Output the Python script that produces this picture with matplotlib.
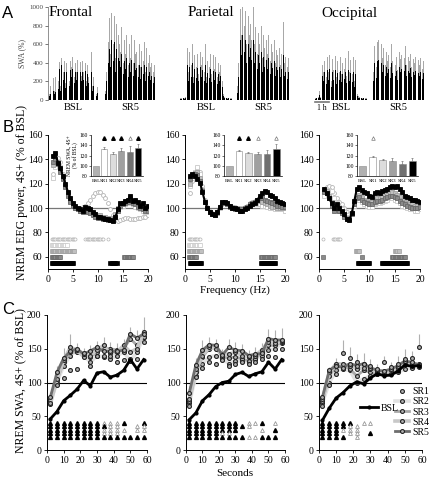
import matplotlib; matplotlib.use("Agg")
import matplotlib.pyplot as plt
import numpy as np
from matplotlib.lines import Line2D

plt.rcParams['font.family'] = ['Liberation Serif', 'DejaVu Serif']
W, H = 431, 479
SANS = ['Liberation Sans', 'DejaVu Sans']

# ---------------- data ----------------
# A: SWA time course (gray = peaks, black = body)
F_BSL_G = [60,150,80,240,100,250,90,200,410,150,450,300,420,180,400,620,200,420,350,460,250,400,300,430,200,410,260,420,300,400,200,380,250,320,520,150,250,100,60,140]
F_BSL_K = [40,60,50,100,60,90,70,120,330,100,380,220,300,130,300,350,150,320,250,330,180,300,220,300,150,300,200,300,220,310,150,280,180,250,300,100,150,60,40,80]
F_SR5_G = [100,300,620,880,500,940,600,900,450,820,700,600,520,780,400,650,500,700,380,600,450,700,400,640,500,520,380,600,350,530,420,620,300,560,400,480,350,400,300,380]
F_SR5_K = [60,200,400,550,350,650,420,620,300,550,450,420,360,500,280,420,330,450,250,400,300,430,260,400,320,340,250,380,230,350,280,380,200,360,260,300,220,260,180,250]
P_BSL_G = [20,20,25,20,30,560,300,520,380,600,250,480,350,500,280,520,380,460,300,600,250,420,360,500,280,480,330,460,250,400,300,380,200,60,30,25,20,25,20,20]
P_BSL_K = [15,15,20,15,20,380,200,360,250,400,180,330,240,340,200,360,250,320,200,380,180,290,240,330,190,310,220,300,170,280,200,260,140,40,20,18,15,18,15,15]
P_SR5_G = [150,400,980,700,1000,800,960,600,900,700,820,650,1000,600,780,500,720,600,800,450,700,560,650,500,700,420,600,520,650,400,540,480,560,380,500,840,400,460,350,450]
P_SR5_K = [80,250,650,480,700,520,640,400,600,460,560,430,650,400,520,330,480,400,520,300,460,360,430,330,450,280,400,340,420,260,360,320,360,250,330,480,260,300,230,300]
O_BSL_G = [20,25,30,100,30,380,300,420,250,460,300,480,200,440,320,470,250,420,300,460,280,400,330,450,260,530,300,430,280,460,200,430,60,40,30,25,20,25,20,20]
O_BSL_K = [15,18,20,50,20,260,200,300,170,320,210,330,140,300,220,320,170,290,210,310,190,280,230,300,180,320,200,290,190,300,140,280,40,25,20,18,15,18,15,15]
O_SR5_G = [300,580,350,620,640,400,600,450,560,380,520,420,480,350,600,420,500,380,460,320,520,440,480,350,450,580,380,460,420,500,360,440,400,460,350,430,380,450,330,420]
O_SR5_K = [200,400,240,420,430,280,400,300,380,260,360,290,330,240,400,290,340,260,310,220,350,300,330,240,310,380,260,310,290,340,250,300,270,310,240,290,260,300,230,290]

# B: NREM EEG power spectra (% of BSL), 1-20 Hz in 0.5 Hz bins
FREQ = np.arange(1.0, 20.01, 0.5)
SERIES = ["SR1", "SR2", "SR3", "SR4", "SR5"]
F_SPEC = [
    [128,138,141,138,128,120,112,107,103,101,100,100,101,102,104,107,110,112,113,113,111,108,104,99,94,90,89,90,91,92,92,91,91,91,92,92,93,93,94],
    [125,134,138,134,126,118,111,106,102,100,99,98,97,98,97,96,95,94,93,93,92,92,91,91,91,94,98,101,102,103,104,104,103,101,100,99,98,97,97],
    [135,140,138,132,125,118,111,106,102,100,99,98,98,99,98,97,96,95,94,94,93,93,92,92,91,95,100,103,104,105,106,108,105,104,102,101,100,99,99],
    [138,140,136,130,124,117,110,105,102,100,99,98,97,98,97,96,94,93,92,92,91,91,90,90,90,93,98,102,103,104,105,107,104,103,101,100,99,98,98],
    [143,145,137,133,126,120,113,108,104,102,100,99,98,101,100,99,97,95,93,93,92,91,91,90,89,93,99,104,104,106,107,110,106,107,105,102,104,100,102],
]
P_SPEC = [
    [112,122,128,132,130,118,107,101,98,96,95,97,100,103,104,103,102,101,101,100,100,100,101,102,104,105,106,105,104,103,102,101,101,100,100,100,100,99,99],
    [118,125,130,134,128,116,106,100,97,95,94,96,100,104,104,103,101,100,100,99,99,99,100,101,102,103,103,103,103,102,102,101,100,100,99,99,99,99,98],
    [120,126,129,130,125,115,105,100,97,95,94,96,101,105,105,104,102,101,100,100,99,99,100,101,102,104,105,106,106,105,104,103,102,101,101,100,100,100,100],
    [124,127,128,127,122,114,105,100,97,95,94,97,101,104,104,103,101,100,99,99,98,99,100,101,103,104,105,107,108,108,107,106,105,104,103,102,102,101,101],
    [126,128,126,124,121,113,105,100,97,95,94,97,101,105,105,104,102,100,100,99,98,98,99,100,102,103,104,107,110,112,114,113,111,110,108,106,105,104,103],
]
O_SPEC = [
    [112,117,118,117,112,108,105,103,100,97,95,97,104,110,110,108,106,105,104,104,106,107,107,108,109,110,111,112,111,110,108,106,104,103,102,101,101,100,100],
    [110,113,115,114,108,104,101,99,97,94,93,96,102,107,107,105,103,102,101,101,103,104,104,105,106,107,108,108,107,106,104,102,101,100,99,99,98,98,99],
    [114,114,110,105,100,99,98,96,94,92,92,96,103,110,111,109,107,106,105,105,107,108,108,109,110,111,112,113,112,111,109,107,105,104,103,103,102,102,102],
    [113,112,108,102,98,100,98,96,93,91,91,95,103,108,109,107,105,104,103,103,105,106,106,107,108,109,110,110,109,108,106,104,103,102,101,100,100,100,101],
    [116,112,108,104,100,103,100,98,95,91,90,96,106,116,117,115,113,112,110,109,112,113,112,114,115,116,117,118,117,118,116,113,110,109,108,107,107,106,105],
]
# significant frequency ranges (Hz) per series
F_SIG = [[(0.75, 5.5), (7.5, 11.0), (12.0, 12.0)], [(0.75, 3.75)], [(0.75, 5.25)], [(0.75, 2.5), (15.25, 17.0)], [(0.75, 5.0), (12.5, 13.75)]]
P_SIG = [[(0.75, 3.0)], [(0.75, 3.0)], [(0.75, 3.25)], [(0.75, 2.25), (15.25, 18.0)], [(1.0, 3.25), (15.25, 18.0)]]
O_SIG = [[(0.75, 0.75), (2.75, 4.25)], [], [(7.25, 8.0), (15.0, 15.75)], [(0.75, 0.75), (8.5, 8.5), (14.5, 17.0)], [(7.75, 10.0), (12.5, 17.5)]]

# B insets: NREM SWA
BAR_CATS = ["BSL", "SR1", "SR2", "SR3", "SR4", "SR5"]
F_BAR = [100, 133, 123, 129, 127, 134]; F_BAR_ERR = [0, 3, 4, 6, 11, 8]; F_BAR_SIG = "-fffof"
P_BAR = [100, 128, 124, 122, 122, 132]; P_BAR_ERR = [0, 3, 3, 5, 9, 10]; P_BAR_SIG = "-ffo-o"
O_BAR = [100, 117, 111, 109, 104, 109]; O_BAR_ERR = [0, 3, 3, 7, 6, 7]; O_BAR_SIG = "-o----"

# C: SWA time course within NREM episodes
TIME = np.arange(2, 59, 4)
F_BSL = [46,57,73,81,90,103,95,114,116,108,111,118,134,120,134]
F_SR = [
    [70,97,106,118,120,143,125,140,140,140,130,133,135,135,160],
    [72,100,125,140,148,140,130,140,138,135,140,145,132,145,168],
    [75,103,130,145,145,140,138,145,150,150,148,150,165,155,168],
    [68,105,133,152,148,138,140,148,155,143,145,155,145,150,175],
    [78,115,136,146,150,142,147,152,146,146,146,148,172,166,172],
]
F_ERR = [8,10,15,20,8,8,8,10,12,10,10,10,10,12,22]
P_BSL = [45,55,73,82,94,100,102,112,115,109,113,116,130,120,134]
P_SR = [
    [65,108,122,130,128,133,124,127,130,128,130,135,140,138,150],
    [70,110,128,138,140,135,128,132,132,130,135,140,148,150,158],
    [72,115,138,150,152,138,136,138,135,132,135,145,155,155,160],
    [75,120,140,152,150,142,142,145,140,138,140,148,160,158,162],
    [85,126,148,156,155,141,152,148,147,140,142,143,165,163,163],
]
P_ERR = [10,10,15,12,10,8,12,12,10,8,10,10,15,15,18]
O_BSL = [44,62,77,85,95,101,98,107,113,110,111,117,126,124,125]
O_SR = [
    [65,97,113,143,137,130,128,125,120,130,123,128,135,136,152],
    [70,100,118,120,118,100,105,110,112,112,112,115,120,122,123],
    [72,110,125,125,120,110,118,115,113,113,115,118,128,125,125],
    [75,115,128,127,125,120,122,120,115,115,118,122,130,128,127],
    [78,118,125,122,128,125,128,122,118,117,120,125,132,130,126],
]
O_ERR = [5,5,8,20,15,12,15,10,8,10,8,12,15,10,20]
# significance triangles (f = filled, o = open, - = none), rows SR1..SR5
F_TRI = ["ffffffffooof--f", "fffffffffoo--oo", "ffffffffoooo-oo", "ffffffffooo----", "fffffffffffffff"]
P_TRI = ["ffffffff-oof-o-", "fffffffffo-----", "ffffffff---o-f-", "fffffoo--------", "fffffffffoofff-"]
O_TRI = ["fffff-oo-------", "ffffoo---------", "fffooo---------", "fff-oo-f-------", "ffff-o---------"]

# ---------------- helpers ----------------
def box(x0, y0, x1, y1):
    return [x0 / W, 1 - y1 / H, (x1 - x0) / W, (y1 - y0) / H]

def ftext(x, y, s, **kw):
    fig.text(x / W, 1 - y / H, s, **kw)

def clean(ax, lw=0.7):
    for s in ("top", "right"):
        ax.spines[s].set_visible(False)
    for s in ("left", "bottom"):
        ax.spines[s].set_linewidth(lw)

fig = plt.figure(figsize=(4.31, 4.79), dpi=100)

# ---------------- A ----------------
A_TRACES = [(F_BSL_G, F_BSL_K), (F_SR5_G, F_SR5_K), (P_BSL_G, P_BSL_K),
            (P_SR5_G, P_SR5_K), (O_BSL_G, O_BSL_K), (O_SR5_G, O_SR5_K)]
A_POS = [(49, 98), (105, 155), (180, 232), (237, 289), (315, 367), (373, 424)]
A_LAB = ["BSL", "SR5"] * 3
for i, ((g, k), (x0, x1)) in enumerate(zip(A_TRACES, A_POS)):
    ax = fig.add_axes(box(x0, 7, x1, 100))
    idx = np.arange(len(g))
    ax.bar(idx, g, width=0.7, color="#a8a8a8", lw=0)
    ax.bar(idx, k, width=0.7, color="black", lw=0)
    ax.set_xlim(-0.5, len(g) - 0.5); ax.set_ylim(0, 1000)
    ax.set_xticks([])
    for s in ("top", "right", "bottom"):
        ax.spines[s].set_visible(False)
    if i == 0:
        ax.spines["left"].set_position(("outward", 1))
        ax.spines["left"].set_linewidth(0.5); ax.spines["left"].set_color("#666")
        ax.set_yticks(range(0, 1001, 200))
        ax.tick_params(axis="y", labelsize=5, length=2, width=0.5, pad=1, colors="#444")
        ax.set_ylabel("SWA (%)", fontsize=5.5, labelpad=2, color="#444")
    else:
        ax.spines["left"].set_visible(False); ax.set_yticks([])
    ftext((x0 + x1) / 2, 108, A_LAB[i], ha="center", va="center", fontsize=7.5)

ftext(49, 13, "Frontal", ha="left", va="center", fontsize=11)
ftext(188, 13, "Parietal", ha="left", va="center", fontsize=11)
ftext(321, 13, "Occipital", ha="left", va="center", fontsize=11)
fig.add_artist(Line2D([315 / W, 329 / W], [1 - 102 / H] * 2, color="#777", lw=1.2))
ftext(322, 108, "1 h", ha="center", va="center", fontsize=5.5)

# ---------------- B ----------------
SPEC_STY = [dict(marker="o", mfc="white", mec="#b5b5b5"),
            dict(marker="s", mfc="white", mec="#c8c8c8"),
            dict(marker="s", mfc="#c0c0c0", mec="#a0a0a0"),
            dict(marker="s", mfc="#8a8a8a", mec="#6a6a6a"),
            dict(marker="s", mfc="black", mec="black")]
SIG_LEVELS = [75, 70, 65, 60, 55]
B_POS = [(48, 148), (185, 285), (319, 420)]
for spec, sig, (x0, x1) in zip([F_SPEC, P_SPEC, O_SPEC], [F_SIG, P_SIG, O_SIG], B_POS):
    ax = fig.add_axes(box(x0, 135, x1, 269))
    clean(ax)
    ax.axhline(100, color="#777", lw=0.9, zorder=1)
    for k in range(5):
        if k == 4:
            ax.plot(FREQ, spec[k], color="black", lw=1.5, ms=2.8, mew=0.6, zorder=5, **SPEC_STY[k])
        else:
            ax.plot(FREQ, spec[k], ls="none", ms=2.8, mew=0.6, zorder=3, **SPEC_STY[k])
        for a, b in sig[k]:
            xs = np.arange(a, b + 0.01, 0.25)
            ax.plot(xs, [SIG_LEVELS[k]] * len(xs), ls="none", ms=2.2, mew=0.5, **SPEC_STY[k])
    ax.set_xlim(0, 20); ax.set_ylim(50, 160)
    ax.set_xticks(range(0, 21, 5)); ax.set_yticks(range(60, 161, 20))
    ax.tick_params(labelsize=7, length=2.5, width=0.6, pad=1.5)

BAR_COLORS = ["#b0b0b0", "white", "#dcdcdc", "#a0a0a0", "#707070", "black"]
INSET_POS = [(91, 143), (224, 282), (357, 418)]
for i, (vals, err, sig, (x0, x1)) in enumerate(zip([F_BAR, P_BAR, O_BAR], [F_BAR_ERR, P_BAR_ERR, O_BAR_ERR],
                                                  [F_BAR_SIG, P_BAR_SIG, O_BAR_SIG], INSET_POS)):
    ax = fig.add_axes(box(x0, 135, x1, 176))
    clean(ax, 0.5)
    xs = np.arange(len(BAR_CATS))
    ax.bar(xs, vals, width=0.72, color=BAR_COLORS, edgecolor="#888", lw=0.4)
    ax.errorbar(xs[1:], vals[1:], yerr=[np.zeros(5), err[1:]], fmt="none", ecolor="#777", elinewidth=0.5, capsize=1, capthick=0.5)
    for j, c in enumerate(sig):
        if c == "f":
            ax.plot(xs[j], 155, marker="^", ms=2.6, color="black")
        elif c == "o":
            ax.plot(xs[j], 155, marker="^", ms=2.6, mfc="white", mec="#777", mew=0.5)
    ax.set_ylim(80, 160); ax.set_xlim(-0.6, 5.6)
    ax.set_yticks(range(80, 161, 20)); ax.set_xticks(xs)
    ax.set_xticklabels(BAR_CATS)
    ax.tick_params(axis="y", labelsize=4, length=1.5, width=0.4, pad=1)
    ax.tick_params(axis="x", labelsize=3.6, length=0, pad=2)
    if i == 0:
        ax.set_ylabel("NREM SWA, 4S+\n(% of BSL)", fontsize=4, labelpad=1, linespacing=1.0)

ftext(22, 192, "NREM EEG power, 4S+ (% of BSL)", rotation=90, ha="center", va="center", fontsize=8.5)
ftext(235, 290, "Frequency (Hz)", ha="center", va="center", fontsize=8)

# ---------------- C ----------------
LINE_STY = [None,
            dict(color="#e2e2e2", lw=2.6),
            dict(color="#a8a8a8", lw=2.0),
            dict(color="#c8c8c8", lw=2.6),
            dict(color="#6e6e6e", lw=2.0)]
MK = dict(marker="o", ms=2.8, mfc="#b0b0b0", mec="#222", mew=0.8)
TRI_LEVELS = [40, 35, 30, 25, 20]
C_POS = [(47, 147), (186, 285), (319, 422)]
for j, (bsl, srs, err, tri, (x0, x1)) in enumerate(zip([F_BSL, P_BSL, O_BSL], [F_SR, P_SR, O_SR],
                                                      [F_ERR, P_ERR, O_ERR], [F_TRI, P_TRI, O_TRI], C_POS)):
    ax = fig.add_axes(box(x0, 315, x1, 450))
    clean(ax)
    ax.axhline(100, color="black", lw=0.8, zorder=1)
    top = np.max(np.array(srs), axis=0)
    ax.vlines(TIME, top, top + np.array(err), color="#b0b0b0", lw=0.8, zorder=1)
    handles = []
    for k in range(5):
        if k == 0:
            h, = ax.plot(TIME, srs[k], ls="none", zorder=4, label=SERIES[k], **MK)
        else:
            h, = ax.plot(TIME, srs[k], zorder=2 + k * 0.1, label=SERIES[k], **LINE_STY[k], **MK)
        handles.append(h)
    hb, = ax.plot(TIME, bsl, color="black", lw=2.0, marker="o", ms=2.0, zorder=5, label="BSL")
    for k, row in enumerate(tri):
        for t, c in zip(TIME, row):
            if c == "f":
                ax.plot(t, TRI_LEVELS[k], marker="^", ms=2.8, color="black", ls="none")
            elif c == "o":
                ax.plot(t, TRI_LEVELS[k], marker="^", ms=2.8, mfc="white", mec="#999", mew=0.6, ls="none")
    ax.set_xlim(0, 60); ax.set_ylim(0, 200)
    ax.set_xticks(range(0, 61, 10)); ax.set_yticks(range(0, 201, 50))
    ax.tick_params(labelsize=7, length=2.5, width=0.6, pad=1.5)
    if j == 2:
        leg = ax.legend(handles=handles, loc="upper left", bbox_to_anchor=(0.74, 0.465), frameon=False,
                        fontsize=7, handlelength=1.4, handletextpad=0.4, labelspacing=0.12,
                        borderpad=0, borderaxespad=0)
        ax.add_artist(leg)
        ax.legend(handles=[hb], loc="center left", bbox_to_anchor=(0.40, 0.31), frameon=False,
                  fontsize=7, handlelength=1.8, handletextpad=0.3, borderpad=0, borderaxespad=0)

ftext(21, 381, "NREM SWA, 4S+ (% of BSL)", rotation=90, ha="center", va="center", fontsize=8.5)
ftext(235, 473, "Seconds", ha="center", va="center", fontsize=8)

ftext(8, 13, "A", ha="center", va="center", fontsize=12, family=SANS)
ftext(8, 128, "B", ha="center", va="center", fontsize=12, family=SANS)
ftext(8, 309, "C", ha="center", va="center", fontsize=12, family=SANS)

fig.savefig("out.png", dpi=100)
